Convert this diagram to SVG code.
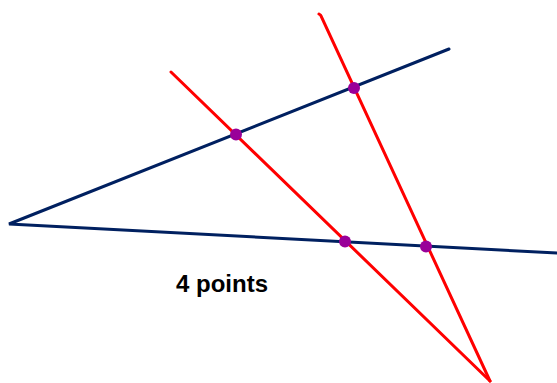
<svg xmlns="http://www.w3.org/2000/svg" width="557" height="383" viewBox="0 0 557 383">
<style>
.blue{stroke:#002060;stroke-width:3;fill:none;stroke-linecap:round}
.red{stroke:#FF0000;stroke-width:3;fill:none;stroke-linecap:round}
.pt{fill:#990099}
.lbl{font-family:"Liberation Sans",Arial,sans-serif;font-weight:bold;font-size:24px;fill:#000}
</style>
<rect width="557" height="383" fill="#fff"/>
<g id="connectors">
<polyline class="blue" points="449,49 9,224 557,253"/>
<line class="red" x1="171" y1="72" x2="490" y2="381"/>
<path class="red" d="M319,14 Q321,15 321,16 L490,381"/>
</g>
<g id="p1"><circle class="pt" cx="236" cy="134.5" r="6"/></g>
<g id="p2"><circle class="pt" cx="354" cy="88" r="6"/></g>
<g id="p3"><circle class="pt" cx="345" cy="241.5" r="6"/></g>
<g id="p4"><circle class="pt" cx="426" cy="246.5" r="6"/></g>
<g id="label"><text class="lbl" x="176" y="292">4 points</text></g>
</svg>
